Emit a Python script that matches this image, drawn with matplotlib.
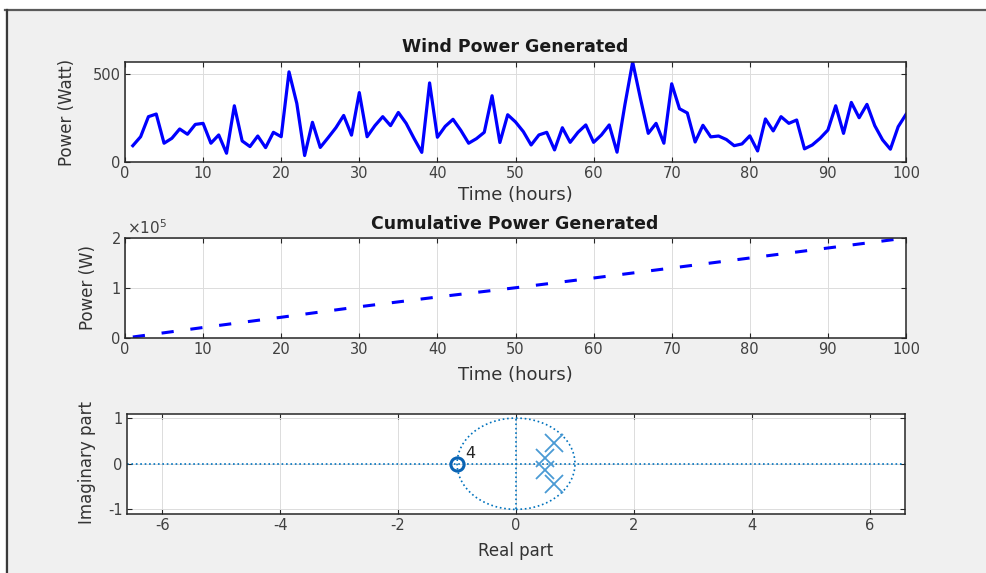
import numpy as np
import matplotlib
matplotlib.use("Agg")
import matplotlib.pyplot as plt
from matplotlib.patches import Circle, Rectangle
from matplotlib.lines import Line2D

plt.rcParams['font.family'] = ['DejaVu Sans']
plt.rcParams['axes.unicode_minus'] = False

# ---------------- data ----------------
hours = list(range(1, 101))
wind_power = [
    90, 141, 255, 270, 104, 132, 185, 155, 211, 217,
    104, 151, 47, 317, 117, 85, 145, 79, 166, 141,
    510, 330, 34, 223, 80, 135, 192, 262, 150, 392,
    141, 204, 255, 204, 279, 217, 132, 52, 447, 138,
    200, 240, 177, 104, 130, 166, 374, 108, 266, 225,
    170, 94, 151, 166, 66, 192, 109, 166, 208, 109,
    151, 208, 53, 321, 566, 358, 160, 217, 104, 442,
    300, 276, 111, 206, 140, 145, 125, 90, 100, 146,
    60, 242, 174, 255, 217, 236, 72, 94, 132, 179,
    317, 160, 336, 249, 325, 204, 123, 70, 198, 268,
]

# cumulative power
cum_hours = [1, 10, 20, 30, 40, 50, 60, 70, 80, 90, 100]
cumulative_power = [2000, 21000, 41500, 62500, 82000, 100500,
                    120000, 140000, 160000, 180000, 200000]

zeros_re = [-1.0]
zeros_im = [0.0]
zero_multiplicity = "4"
poles_re = [0.65, 0.50, 0.50, 0.65]
poles_im = [0.45, 0.13, -0.13, -0.45]

time_ticks = list(range(0, 101, 10))
power_ticks = [0, 500]
cum_ticks = [0, 1e5, 2e5]
cum_tick_labels = ["0", "1", "2"]
re_ticks = [-6, -4, -2, 0, 2, 4, 6]
im_ticks = [-1, 0, 1]

# ---------------- figure ----------------
W, H = 987, 573
fig = plt.figure(figsize=(W / 100, H / 100), dpi=100, facecolor="#f0f0f0")

# screenshot frame: white strip at top/left with dark border line
fig.patches.append(Rectangle((0, 1 - 9.5 / H), 1, 9.5 / H, transform=fig.transFigure,
                             facecolor="white", edgecolor="none", zorder=0))
fig.patches.append(Rectangle((0, 0), 5.5 / W, 1, transform=fig.transFigure,
                             facecolor="white", edgecolor="none", zorder=0))
fig.lines.append(Line2D([5.5 / W, 1], [1 - 10 / H, 1 - 10 / H], transform=fig.transFigure,
                        color="#5a5a5a", lw=1.6))
fig.lines.append(Line2D([6.5 / W, 6.5 / W], [0, 1 - 10 / H], transform=fig.transFigure,
                        color="#3a3a3a", lw=1.6))


def px_axes(x0, x1, y0, y1):
    return fig.add_axes([x0 / W, 1 - y1 / H, (x1 - x0) / W, (y1 - y0) / H])


tick_color = "#404040"


def style(ax):
    ax.set_facecolor("white")
    for s in ax.spines.values():
        s.set_color("#262626")
        s.set_linewidth(1.1)
    ax.tick_params(direction="in", length=3.5, width=0.8, colors="#262626",
                   top=True, right=True, labelsize=10.5, labelcolor=tick_color, pad=3)
    ax.grid(True, color="#dcdcdc", linewidth=0.7)
    ax.set_axisbelow(True)


def ftext(x, y, s, **kw):
    fig.text(x / W, 1 - y / H, s, ha="center", va="center", **kw)


# ---- top: wind power ----
ax1 = px_axes(125, 906, 62, 161.5)
style(ax1)
ax1.plot(hours, wind_power, color="#0000ff", lw=2.3, solid_joinstyle="round")
ax1.set_xlim(0, 100)
ax1.set_ylim(0, max(wind_power))
ax1.set_xticks(time_ticks)
ax1.set_yticks(power_ticks)
ftext(515, 47, "Wind Power Generated", fontsize=12.5, fontweight="bold", color="#1a1a1a")
ftext(515, 195, "Time (hours)", fontsize=13, color="#333333")
ftext(67, 112, "Power (Watt)", fontsize=12, rotation=90, color="#333333")

# ---- middle: cumulative ----
ax2 = px_axes(125, 906, 238, 338)
style(ax2)
ax2.plot(cum_hours, cumulative_power, color="#0000ff", lw=2.2,
         linestyle=(0, (4.0, 5.5)))
ax2.set_xlim(0, 100)
ax2.set_ylim(0, 2e5)
ax2.set_xticks(time_ticks)
ax2.set_yticks(cum_ticks)
ax2.set_yticklabels(cum_tick_labels)
fig.text(127 / W, 1 - 228 / H, r"$\times10^{5}$", ha="left", va="center",
         fontsize=11, color=tick_color)
ftext(515, 224, "Cumulative Power Generated", fontsize=12.5, fontweight="bold", color="#1a1a1a")
ftext(515, 375, "Time (hours)", fontsize=13, color="#333333")
ftext(88, 288, "Power (W)", fontsize=12, rotation=90, color="#333333")

# ---- bottom: pole-zero plot ----
ax3 = px_axes(127, 905, 414, 513.5)
style(ax3)
blue = "#0072BD"
xl = (-6.6, 6.6)
yl = (-1.09, 1.09)
ax3.set_xlim(*xl)
ax3.set_ylim(*yl)
ax3.add_patch(Circle((0, 0), 1, fill=False, edgecolor=blue, linestyle=":", lw=1.2))
ax3.plot(list(xl), [0, 0], color=blue, linestyle=":", lw=1.2)
ax3.plot([0, 0], [-1, 1], color=blue, linestyle=":", lw=1.2)
ax3.plot(zeros_re, zeros_im, linestyle="none", marker="o", markersize=9.5,
         markerfacecolor="none", markeredgecolor="#0a64b4", markeredgewidth=2.2)
ax3.text(zeros_re[0] + 0.22, zeros_im[0] + 0.22, zero_multiplicity, fontsize=11.5,
         color="#262626", ha="center", va="center")
ax3.plot(poles_re, poles_im, linestyle="none", marker="x", markersize=12.5,
         markeredgecolor="#4a9ad4", markeredgewidth=1.3)
ax3.set_xticks(re_ticks)
ax3.set_yticks(im_ticks)
ftext(516, 551, "Real part", fontsize=12, color="#333333")
ftext(87, 463, "Imaginary part", fontsize=12, rotation=90, color="#333333")

fig.savefig("out.png", dpi=100, facecolor=fig.get_facecolor())
